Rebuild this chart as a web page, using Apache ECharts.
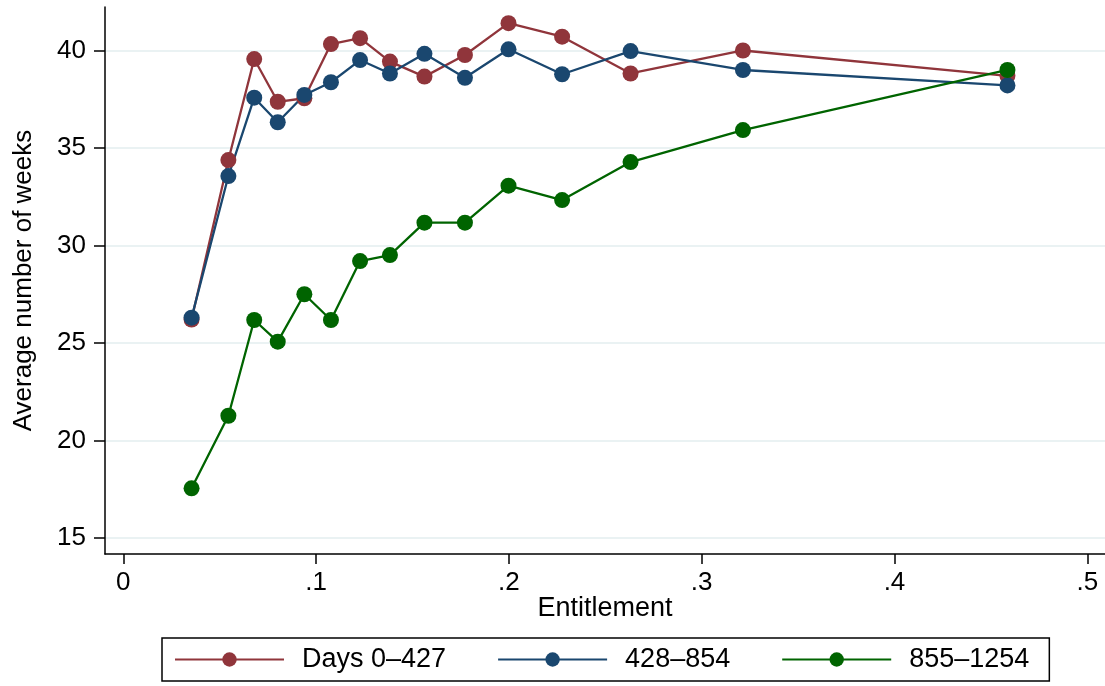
<!DOCTYPE html>
<html>
<head>
<meta charset="utf-8">
<script src="https://cdn.jsdelivr.net/npm/echarts@6/dist/echarts.min.js"></script>
<style>
html,body{margin:0;padding:0;background:#fff;}
#chart{width:1105px;height:686px;}
</style>
</head>
<body>
<div id="chart"></div>
<script>
const entitlement = [0.0354, 0.0545, 0.0679, 0.0801, 0.0939, 0.1077, 0.1228, 0.1383, 0.1562, 0.1772, 0.1998, 0.2276, 0.2631, 0.3214, 0.4586];
const days0_427 = [26.2, 34.38, 39.56, 37.37, 37.55, 40.33, 40.63, 39.43, 38.66, 39.77, 41.40, 40.71, 38.82, 40.0, 38.70];
const days428_854 = [26.3, 33.56, 37.58, 36.32, 37.72, 38.37, 39.51, 38.82, 39.83, 38.6, 40.06, 38.78, 39.97, 39.0, 38.21];
const days855_1254 = [17.55, 21.27, 26.18, 25.07, 27.5, 26.18, 29.2, 29.51, 31.17, 31.17, 33.07, 32.33, 34.28, 35.92, 39.0];
const seriesNames = ['Days 0\u2013427', '428\u2013854', '855\u20131254'];
const xTicks = [0, 0.1, 0.2, 0.3, 0.4, 0.5];
const xTickLabels = ['0', '.1', '.2', '.3', '.4', '.5'];
const yTicks = [15, 20, 25, 30, 35, 40];
const xTitle = 'Entitlement';
const yTitle = 'Average number of weeks';

const FONT = "'Liberation Sans', Arial, Helvetica, sans-serif";
const colors = ['#90353B', '#1A476F', '#006400'];
const pair = (ys) => entitlement.map((x, i) => [x, ys[i]]);

const chart = echarts.init(document.getElementById('chart'), null, {renderer: 'canvas'});
const mk = (name, data, color) => ({
  name: name,
  type: 'line',
  data: pair(data),
  symbol: 'circle',
  symbolSize: 16,
  showSymbol: true,
  lineStyle: {color: color, width: 2.3},
  itemStyle: {color: color},
  emphasis: {disabled: true},
  animation: false,
  z: 10
});

chart.setOption({
  backgroundColor: '#ffffff',
  animation: false,
  grid: {left: 105, right: 0, top: 7, bottom: 132, containLabel: false},
  xAxis: {
    type: 'value',
    min: -0.0095,
    max: 0.5092,
    name: xTitle,
    nameLocation: 'middle',
    nameGap: 41,
    nameMoveOverlap: false,
    nameTextStyle: {fontFamily: FONT, fontSize: 27, color: '#000'},
    axisLine: {show: true, onZero: false, lineStyle: {color: '#000', width: 1.5}},
    axisTick: {show: true, length: 10, lineStyle: {color: '#000', width: 1.5}, customValues: xTicks},
    axisLabel: {
      show: true, margin: 16, fontFamily: FONT, fontSize: 26, color: '#000',
      customValues: xTicks,
      formatter: (v) => { const i = xTicks.findIndex(t => Math.abs(t - v) < 1e-9); return i >= 0 ? xTickLabels[i] : ''; }
    },
    splitLine: {show: false}
  },
  yAxis: {
    type: 'value',
    min: 14.18,
    max: 42.23,
    name: yTitle,
    nameLocation: 'middle',
    nameGap: 68,
    nameMoveOverlap: false,
    nameRotate: 90,
    nameTextStyle: {fontFamily: FONT, fontSize: 26, color: '#000'},
    axisLine: {show: true, onZero: false, lineStyle: {color: '#000', width: 1.5}},
    axisTick: {show: true, length: 11, lineStyle: {color: '#000', width: 1.5}, customValues: yTicks},
    axisLabel: {show: true, margin: 19, fontFamily: FONT, fontSize: 26, color: '#000', customValues: yTicks,
      formatter: (v) => String(Math.round(v))},
    splitLine: {show: false}
  },
  legend: {
    data: seriesNames,
    left: 162,
    top: 638,
    orient: 'horizontal',
    itemWidth: 109,
    itemHeight: 18,
    itemGap: 51,
    padding: [8, 20, 8, 12],
    borderColor: '#000',
    borderWidth: 1.5,
    backgroundColor: '#fff',
    textStyle: {fontFamily: FONT, fontSize: 27, color: '#000', padding: [0, 0, 0, 13]},
    selectedMode: false
  },
  series: [
    {
      name: 'grid',
      type: 'line',
      data: [],
      silent: true,
      z: 0,
      markLine: {
        silent: true,
        z: 0,
        symbol: ['none', 'none'],
        label: {show: false},
        lineStyle: {color: '#EAF2F3', width: 2, type: 'solid'},
        emphasis: {disabled: true},
        animation: false,
        data: yTicks.map(v => ({yAxis: v}))
      }
    },
    mk(seriesNames[0], days0_427, colors[0]),
    mk(seriesNames[1], days428_854, colors[1]),
    mk(seriesNames[2], days855_1254, colors[2])
  ]
});
</script>
</body>
</html>
